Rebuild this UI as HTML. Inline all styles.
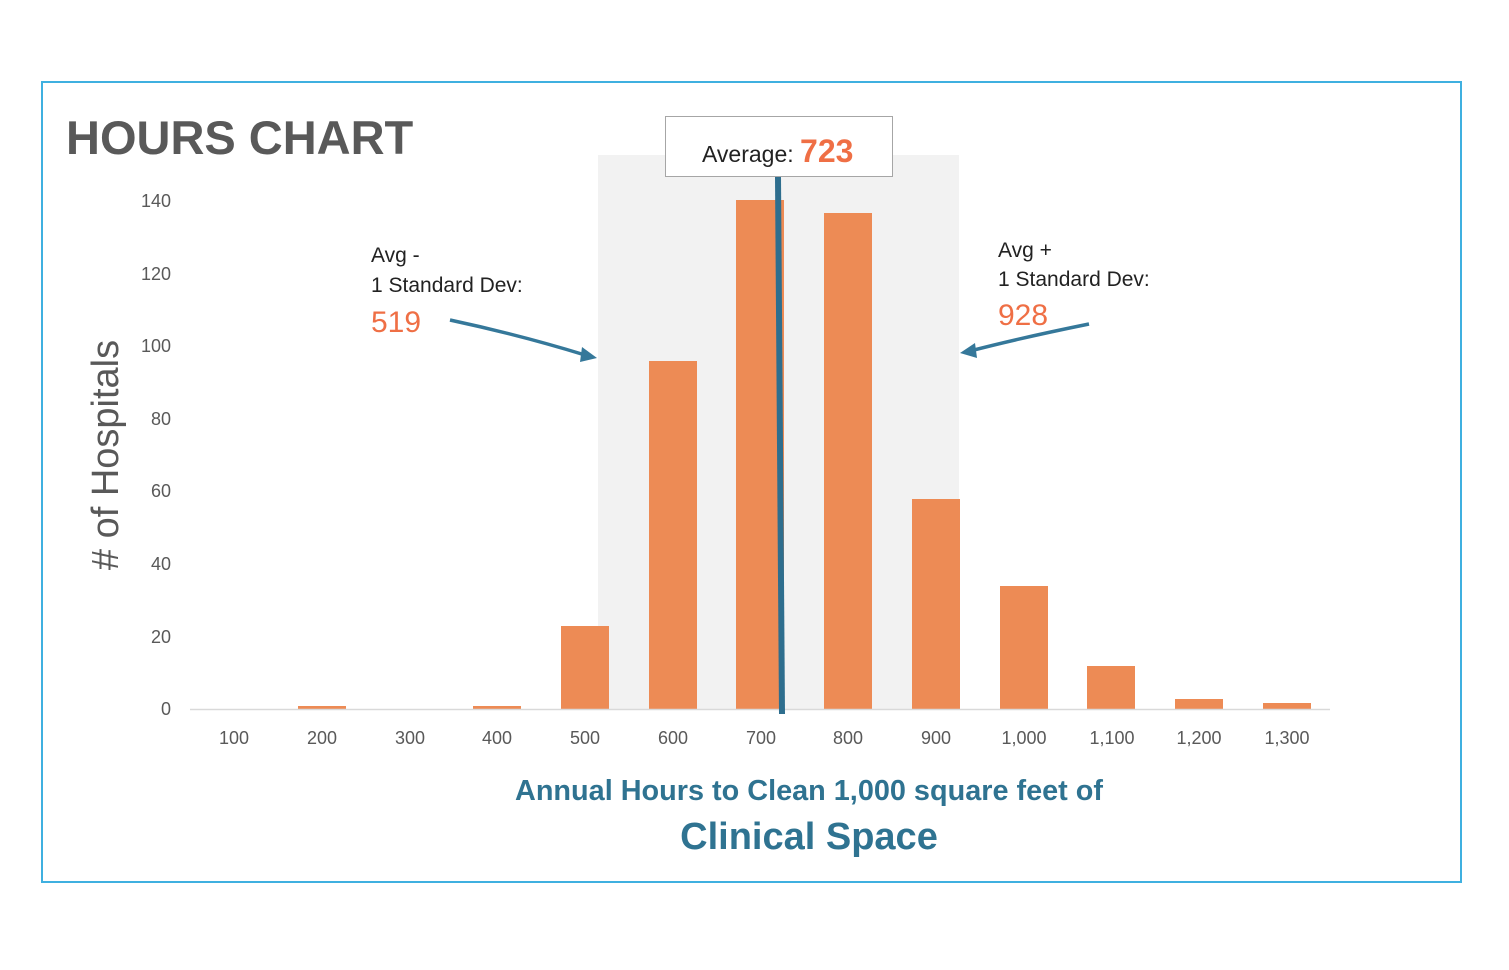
<!DOCTYPE html>
<html><head><style>
body{margin:0;background:#fff;}
svg text{font-family:"Liberation Sans",sans-serif;}
</style></head><body>
<svg width="1509" height="965" viewBox="0 0 1509 965" xmlns="http://www.w3.org/2000/svg">
<rect x="42" y="82" width="1419" height="800" fill="#fff" stroke="#3fb0e0" stroke-width="2"/>
<rect x="598" y="155" width="361" height="554" fill="#f2f2f2"/>
<text x="66" y="154" font-size="47" font-weight="bold" fill="#595959">HOURS CHART</text>
<g font-size="18" fill="#595959" text-anchor="end">
<text x="171" y="715">0</text><text x="171" y="643">20</text><text x="171" y="570">40</text>
<text x="171" y="497">60</text><text x="171" y="425">80</text><text x="171" y="352">100</text>
<text x="171" y="280">120</text><text x="171" y="207">140</text>
</g>
<text transform="translate(118,455) rotate(-90)" font-size="38" fill="#595959" text-anchor="middle">#  of Hospitals</text>
<g fill="#ed8b55">
<rect x="298" y="706" width="48" height="3"/>
<rect x="473" y="706" width="48" height="3"/>
<rect x="561" y="626" width="48" height="83"/>
<rect x="649" y="361" width="48" height="348"/>
<rect x="736" y="200" width="48" height="509"/>
<rect x="824" y="213" width="48" height="496"/>
<rect x="912" y="499" width="48" height="210"/>
<rect x="1000" y="586" width="48" height="123"/>
<rect x="1087" y="666" width="48" height="43"/>
<rect x="1175" y="699" width="48" height="10"/>
<rect x="1263" y="703" width="48" height="6"/>
</g>
<line x1="190" y1="709.5" x2="1330" y2="709.5" stroke="#d9d9d9" stroke-width="1.5"/>
<g font-size="18" fill="#595959" text-anchor="middle">
<text x="234" y="744">100</text><text x="322" y="744">200</text><text x="410" y="744">300</text>
<text x="497" y="744">400</text><text x="585" y="744">500</text><text x="673" y="744">600</text>
<text x="761" y="744">700</text><text x="848" y="744">800</text><text x="936" y="744">900</text>
<text x="1024" y="744">1,000</text><text x="1112" y="744">1,100</text><text x="1199" y="744">1,200</text>
<text x="1287" y="744">1,300</text>
</g>
<rect x="665.5" y="116.5" width="227" height="60" fill="#fff" stroke="#a6a6a6" stroke-width="1"/>
<text x="702" y="162" font-size="23" fill="#222">Average: <tspan font-size="32" font-weight="bold" fill="#ef6f45">723</tspan></text>
<line x1="778" y1="177" x2="782" y2="714" stroke="#2e6e8e" stroke-width="6"/>
<g font-size="21" fill="#222">
<text x="371" y="262">Avg -</text><text x="371" y="292">1 Standard Dev:</text>
<text x="998" y="257">Avg +</text><text x="998" y="286">1 Standard Dev:</text>
</g>
<text x="371" y="332" font-size="30" fill="#ef6f45">519</text>
<text x="998" y="325" font-size="30" fill="#ef6f45">928</text>
<g stroke="#35789a" stroke-width="3.5" fill="none">
<path d="M450 320 Q520 335 585 355"/>
<path d="M1089 324 Q1020 338 970 351"/>
</g>
<polygon points="597,358 582,347 580,362" fill="#35789a"/>
<polygon points="960,353 975,343 977,358" fill="#35789a"/>
<text x="809" y="800" font-size="29" font-weight="bold" fill="#2f7391" text-anchor="middle" textLength="588" lengthAdjust="spacingAndGlyphs">Annual Hours to Clean 1,000 square feet of</text>
<text x="809" y="849" font-size="38" font-weight="bold" fill="#2f7391" text-anchor="middle">Clinical Space</text>
</svg>
</body></html>
